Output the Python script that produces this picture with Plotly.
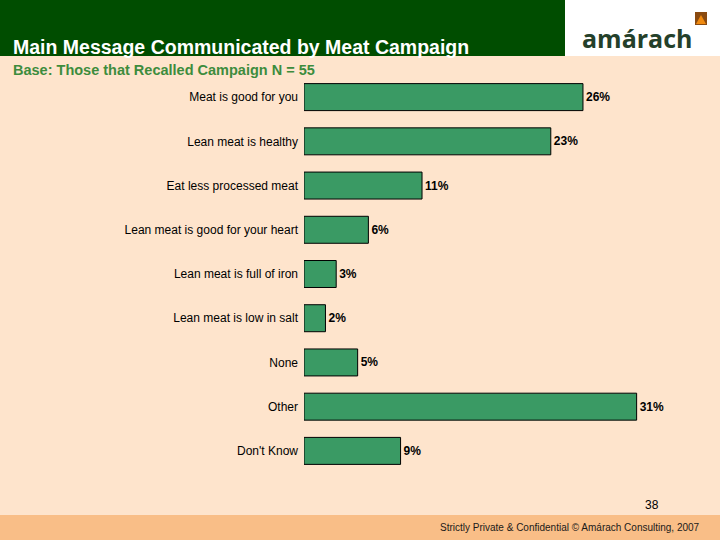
import plotly.graph_objects as go

W, H = 720, 540

categories = ["Meat is good for you", "Lean meat is healthy", "Eat less processed meat",
              "Lean meat is good for your heart", "Lean meat is full of iron",
              "Lean meat is low in salt", "None", "Other", "Don't Know"]
values = [26, 23, 11, 6, 3, 2, 5, 31, 9]
labels = [f"{v}%" for v in values]


def px_x(p):
    return p / W


def px_y(p):
    return 1 - p / H


fig = go.Figure()
fig.add_trace(go.Bar(
    x=values, y=categories, orientation="h",
    marker=dict(color="#3a9a64", line=dict(color="#000000", width=1)),
    width=0.61,
    text=labels, textposition="outside", cliponaxis=False,
    textfont=dict(family="Arial, Liberation Sans", size=12, color="#000000"),
    texttemplate="<b>%{text}</b>",
    hoverinfo="skip",
))

shapes = [
    # header band
    dict(type="rect", xref="paper", yref="paper", x0=0, x1=px_x(565), y0=px_y(56), y1=1,
         fillcolor="#004d00", line=dict(width=0), layer="below"),
    dict(type="rect", xref="paper", yref="paper", x0=px_x(565), x1=1, y0=px_y(56), y1=1,
         fillcolor="#ffffff", line=dict(width=0), layer="below"),
    # logo icon
    dict(type="rect", xref="paper", yref="paper", x0=px_x(695), x1=px_x(707), y0=px_y(25), y1=px_y(12),
         fillcolor="#8a4a10", line=dict(width=0)),
    dict(type="path", xref="paper", yref="paper",
         path=f"M {px_x(696)},{px_y(24)} L {px_x(706)},{px_y(24)} L {px_x(701)},{px_y(15)} Z",
         fillcolor="#f08a10", line=dict(width=0)),
    # footer band
    dict(type="rect", xref="paper", yref="paper", x0=0, x1=1, y0=0, y1=px_y(515),
         fillcolor="#f9be87", line=dict(width=0), layer="below"),
]

annotations = [
    dict(text="<b>Main Message Communicated by Meat Campaign</b>", x=px_x(11), y=px_y(47),
         font=dict(family="Arial, Liberation Sans", size=19.5, color="#ffffff")),
    dict(text="<b>Base: Those that Recalled Campaign N = 55</b>", x=px_x(11), y=px_y(70),
         font=dict(family="Arial, Liberation Sans", size=14.5, color="#3d8c3d")),
    dict(text="<b>amárach</b>", x=px_x(637), y=px_y(38), xanchor="center",
         font=dict(family="Open Sans, Noto Sans", size=25, color="#24402a")),
    dict(text="38", x=px_x(652), y=px_y(505), xanchor="center",
         font=dict(family="Arial, Liberation Sans", size=12, color="#000000")),
    dict(text="Strictly Private &amp; Confidential © Amárach Consulting, 2007", x=px_x(702), y=px_y(527),
         xanchor="right",
         font=dict(family="Arial, Liberation Sans", size=10, color="#1a1a1a")),
]
for a in annotations:
    a.setdefault("xanchor", "left")
    a.update(xref="paper", yref="paper", yanchor="middle", showarrow=False)

fig.update_layout(
    width=W, height=H,
    margin=dict(l=0, r=0, t=0, b=0),
    paper_bgcolor="#fee4cc", plot_bgcolor="rgba(0,0,0,0)",
    showlegend=False,
    shapes=shapes, annotations=annotations,
    xaxis=dict(domain=[px_x(304), px_x(700)], range=[0, 396 / 10.73],
               visible=False, fixedrange=True),
    yaxis=dict(domain=[px_y(473), px_y(75)], autorange="reversed",
               showgrid=False, zeroline=False, showline=False, ticks="",
               ticklabelstandoff=5,
               tickfont=dict(family="Arial, Liberation Sans", size=12, color="#000000")),
)

fig.write_html("out.html", config={"displayModeBar": False},
               post_script="document.body.style.margin='0';")
